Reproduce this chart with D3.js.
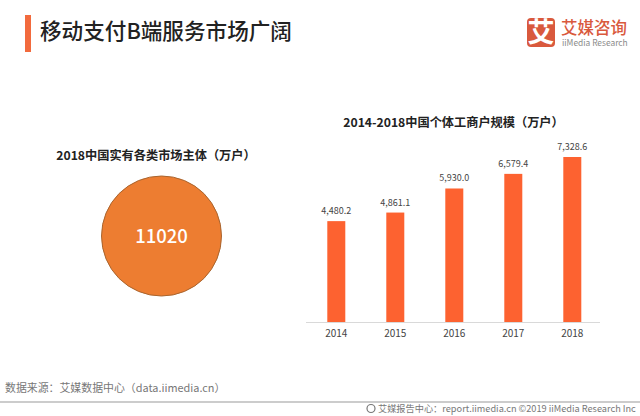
<!DOCTYPE html>
<html>
<head>
<meta charset="utf-8">
<script src="https://cdn.jsdelivr.net/npm/d3@7"></script>
<style>
html,body{margin:0;padding:0;background:#fff;}
svg{display:block;}
text{font-family:"Noto Sans CJK SC","Noto Sans",sans-serif;}
</style>
</head>
<body>
<script>
// bar chart data
var years = ["2014","2015","2016","2017","2018"];
var households = [4480.2,4861.1,5930.0,6579.4,7328.6];
// circle data
var totalEntities = 11020;
// texts
var pageTitle = "移动支付B端服务市场广阔";
var barTitle = "2014-2018中国个体工商户规模（万户）";
var circleTitle = "2018中国实有各类市场主体（万户）";
var sourceText = "数据来源：艾媒数据中心（data.iimedia.cn）";
var footerText = "艾媒报告中心：report.iimedia.cn  ©2019  iiMedia Research  Inc";

var svg = d3.select("body").append("svg")
  .attr("width",640)
  .attr("height",416);

// header
svg.append("rect").attr("x",25).attr("y",15).attr("width",6).attr("height",37).style("fill","#f26a3d");
svg.append("text").text(pageTitle)
  .attr("x",40).attr("y",39)
  .style("font-size","21.6px").style("font-weight",500).style("fill","#222");

// logo
svg.append("rect").attr("x",527).attr("y",18).attr("width",28).attr("height",29).attr("rx",4).style("fill","#d9593d");
svg.append("text").text("艾")
  .attr("x",541).attr("y",42).attr("text-anchor","middle")
  .style("font-size","27px").style("font-weight",700).style("fill","#fff");
svg.append("text").text("艾媒咨询")
  .attr("x",561).attr("y",33.5)
  .style("font-size","16.5px").style("font-weight",500).style("fill","#d9593d");
svg.append("text").text("iiMedia Research")
  .attr("x",562).attr("y",46)
  .style("font-size","8.4px").style("fill","#8a8a8a");

// circle
svg.append("text").text(circleTitle)
  .attr("x",156).attr("y",160).attr("text-anchor","middle")
  .style("font-size","12.2px").style("font-weight",700).style("fill","#222");
var r = d3.scaleSqrt().domain([0,totalEntities]).range([0,60]);
svg.append("circle")
  .attr("cx",161.5).attr("cy",236).attr("r",r(totalEntities))
  .style("fill","#ed7d31").style("stroke","#a9652f").style("stroke-width",1);
svg.append("text").text(totalEntities)
  .attr("x",161.5).attr("y",243).attr("text-anchor","middle")
  .style("font-size","18.5px").style("font-weight",500).style("fill","#fff");

// bars
var x = d3.scaleBand().domain(years).range([306.8,601.8]).paddingInner(0.695).paddingOuter(0.3475);
var y = d3.scaleLinear().domain([0,7328.6]).range([322,157]);

svg.append("text").text(barTitle)
  .attr("x",453.5).attr("y",127).attr("text-anchor","middle")
  .style("font-size","12.2px").style("font-weight",700).style("fill","#222");

svg.selectAll("rect.bar").data(households).enter().append("rect")
  .attr("class","bar")
  .attr("x",function(d,i){return x(years[i]);})
  .attr("y",function(d){return y(d);})
  .attr("width",x.bandwidth())
  .attr("height",function(d){return y(0)-y(d);})
  .style("fill","#fd6230");

svg.selectAll("text.val").data(households).enter().append("text")
  .attr("class","val")
  .text(d3.format(",.1f"))
  .attr("x",function(d,i){return x(years[i])+x.bandwidth()/2;})
  .attr("y",function(d){return y(d)-7;})
  .attr("text-anchor","middle")
  .style("font-size","9px").style("fill","#444");

var axis = d3.axisBottom(x).tickSize(0).tickPadding(8);
var g = svg.append("g").attr("transform","translate(0,322)").call(axis);
g.select(".domain").attr("d","M306,0.5H600").style("stroke","#d9d9d9");
g.selectAll("text").style("font-size","10px").style("fill","#444")
  .style("font-family",'"Noto Sans CJK SC","Noto Sans",sans-serif');

// footer
svg.append("text").text(sourceText)
  .attr("x",5).attr("y",392)
  .style("font-size","10.9px").style("fill","#777");
svg.append("line").attr("x1",0).attr("x2",640).attr("y1",402).attr("y2",402)
  .style("stroke","#999").style("stroke-width",1);
svg.append("circle").attr("cx",371).attr("cy",408.5).attr("r",4)
  .style("fill","none").style("stroke","#777").style("stroke-width",1.2);
svg.append("text").text(footerText)
  .attr("x",378).attr("y",412)
  .style("font-size","9.2px").style("fill","#777");
</script>
</body>
</html>
